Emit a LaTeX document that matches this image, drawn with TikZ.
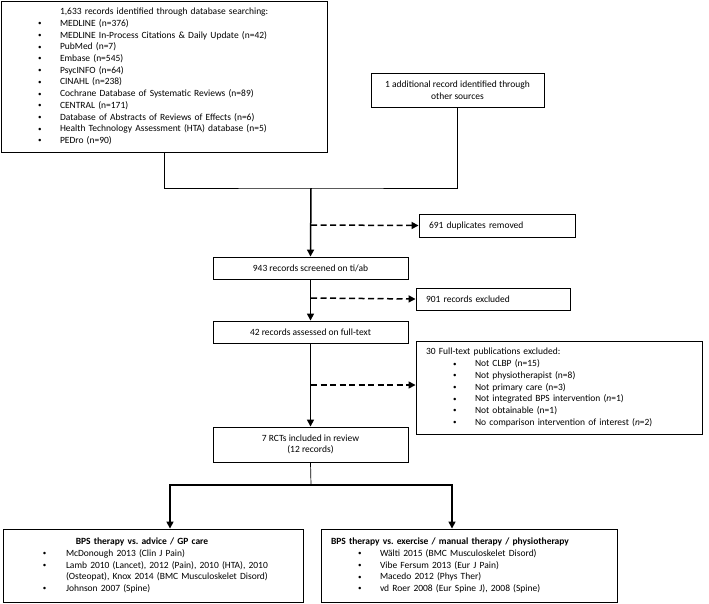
\documentclass[tikz,border=0pt]{standalone}
\usepackage{fontspec}
\setmainfont{Carlito}
\usetikzlibrary{arrows.meta}

\newcommand{\blt}[1][22pt]{\makebox[#1][l]{\fontsize{7}{7}\selectfont\raisebox{0.6pt}{\textbullet}}}

\begin{document}
\frenchspacing
\begin{tikzpicture}[x=1pt,y=-1pt,
    box/.style={draw,line width=0.9pt,inner ysep=0pt,font=\fontsize{9.5}{11.7}\selectfont},
    ln/.style={line width=0.7pt},
    arr/.style={line width=1.5pt,-{Triangle[width=7pt,length=7pt]}},
    darr/.style={arr,dash pattern=on 6pt off 3.5pt}]
    \useasboundingbox (0,0) rectangle (709,603);

    \node[box,minimum width=326,minimum height=151,text width=262,inner xsep=32,align=left] (db) at (164,76.5)
        {\hspace*{27pt}1,633 records identified through database searching:\\
         \hspace*{5pt}\blt MEDLINE (n=376)\\
         \hspace*{5pt}\blt MEDLINE In-Process Citations \& Daily Update (n=42)\\
         \hspace*{5pt}\blt PubMed (n=7)\\
         \hspace*{5pt}\blt Embase (n=545)\\
         \hspace*{5pt}\blt PsycINFO (n=64)\\
         \hspace*{5pt}\blt CINAHL (n=238)\\
         \hspace*{5pt}\blt Cochrane Database of Systematic Reviews (n=89)\\
         \hspace*{5pt}\blt CENTRAL (n=171)\\
         \hspace*{5pt}\blt Database of Abstracts of Reviews of Effects (n=6)\\
         \hspace*{5pt}\blt Health Technology Assessment (HTA) database (n=5)\\
         \hspace*{5pt}\blt PEDro (n=90)};
    \node[box,minimum width=173,minimum height=34,align=center] (other) at (457.5,90)
        {1 additional record identified through\\other sources};
    \node[box,minimum width=156,minimum height=23,text width=136,inner xsep=10,align=left] (dup) at (497,225.5)
        {691 duplicates removed};
    \node[box,minimum width=195,minimum height=22] (screen) at (310.5,268) {943 records screened on ti/ab};
    \node[box,minimum width=154,minimum height=22,text width=134,inner xsep=10,align=left] (excl) at (493,299)
        {901 records excluded};
    \node[box,minimum width=195,minimum height=22] (full) at (310.5,332) {42 records assessed on full-text};
    \node[box,minimum width=286,minimum height=93,text width=270,inner xsep=8,align=left] (ftexcl) at (559,387.5)
        {\hspace*{2pt}30 Full-text publications excluded:\\
         \hspace*{29pt}\blt Not CLBP (n=15)\\
         \hspace*{29pt}\blt Not physiotherapist (n=8)\\
         \hspace*{29pt}\blt Not primary care (n=3)\\
         \hspace*{29pt}\blt Not integrated BPS intervention (\textit{n}=1)\\
         \hspace*{29pt}\blt Not obtainable (n=1)\\
         \hspace*{29pt}\blt No comparison intervention of interest (\textit{n}=2)};
    \node[box,minimum width=195,minimum height=35,align=center] (incl) at (310.5,444.5)
        {7 RCTs included in review\\(12 records)};
    \node[box,minimum width=300,minimum height=73,text width=284,inner xsep=8,align=left] (advice) at (153,565.5)
        {\hspace*{32pt}\makebox[198pt]{\textbf{BPS therapy vs. advice / GP care}}\\
         \hspace*{32pt}\blt[23pt]McDonough 2013 (Clin J Pain)\\
         \hspace*{32pt}\blt[23pt]Lamb 2010 (Lancet), 2012 (Pain), 2010 (HTA), 2010\\
         \hspace*{55pt}(Osteopat), Knox 2014 (BMC Musculoskelet Disord)\\
         \hspace*{32pt}\blt[23pt]Johnson 2007 (Spine)};
    \node[box,minimum width=296,minimum height=73,text width=280,inner xsep=8,align=left] (exer) at (469,565.5)
        {\hspace*{2pt}\textbf{BPS therapy vs. exercise / manual therapy / physiotherapy}\\
         \hspace*{29pt}\blt Wälti 2015 (BMC Musculoskelet Disord)\\
         \hspace*{29pt}\blt Vibe Fersum 2013 (Eur J Pain)\\
         \hspace*{29pt}\blt Macedo 2012 (Phys Ther)\\
         \hspace*{29pt}\blt vd Roer 2008 (Eur Spine J), 2008 (Spine)};

    \coordinate (j1) at (311,188);
    \coordinate (d1) at (311,225);
    \coordinate (d2) at (311,298);
    \coordinate (d3) at (311,385);
    \coordinate (j2) at (311,485);

    \draw[ln] (db.south) |- (j1) -| (other.south);
    \draw[arr] (j1) -- (screen.north);
    \draw[darr] (d1) -- (dup.west);
    \draw[arr] (screen.south) -- (full.north);
    \draw[darr] (d2) -- (excl.west);
    \draw[arr] (full.south) -- (incl.north);
    \draw[darr] (d3) -- (d3 -| ftexcl.west);
    %
    \draw[ln] (incl.south) -- (j2);
    \draw[arr] (j2) -| ([xshift=17pt]advice.north);
    \draw[arr] (j2) -| ([xshift=-17pt]exer.north);
\end{tikzpicture}
\end{document}
